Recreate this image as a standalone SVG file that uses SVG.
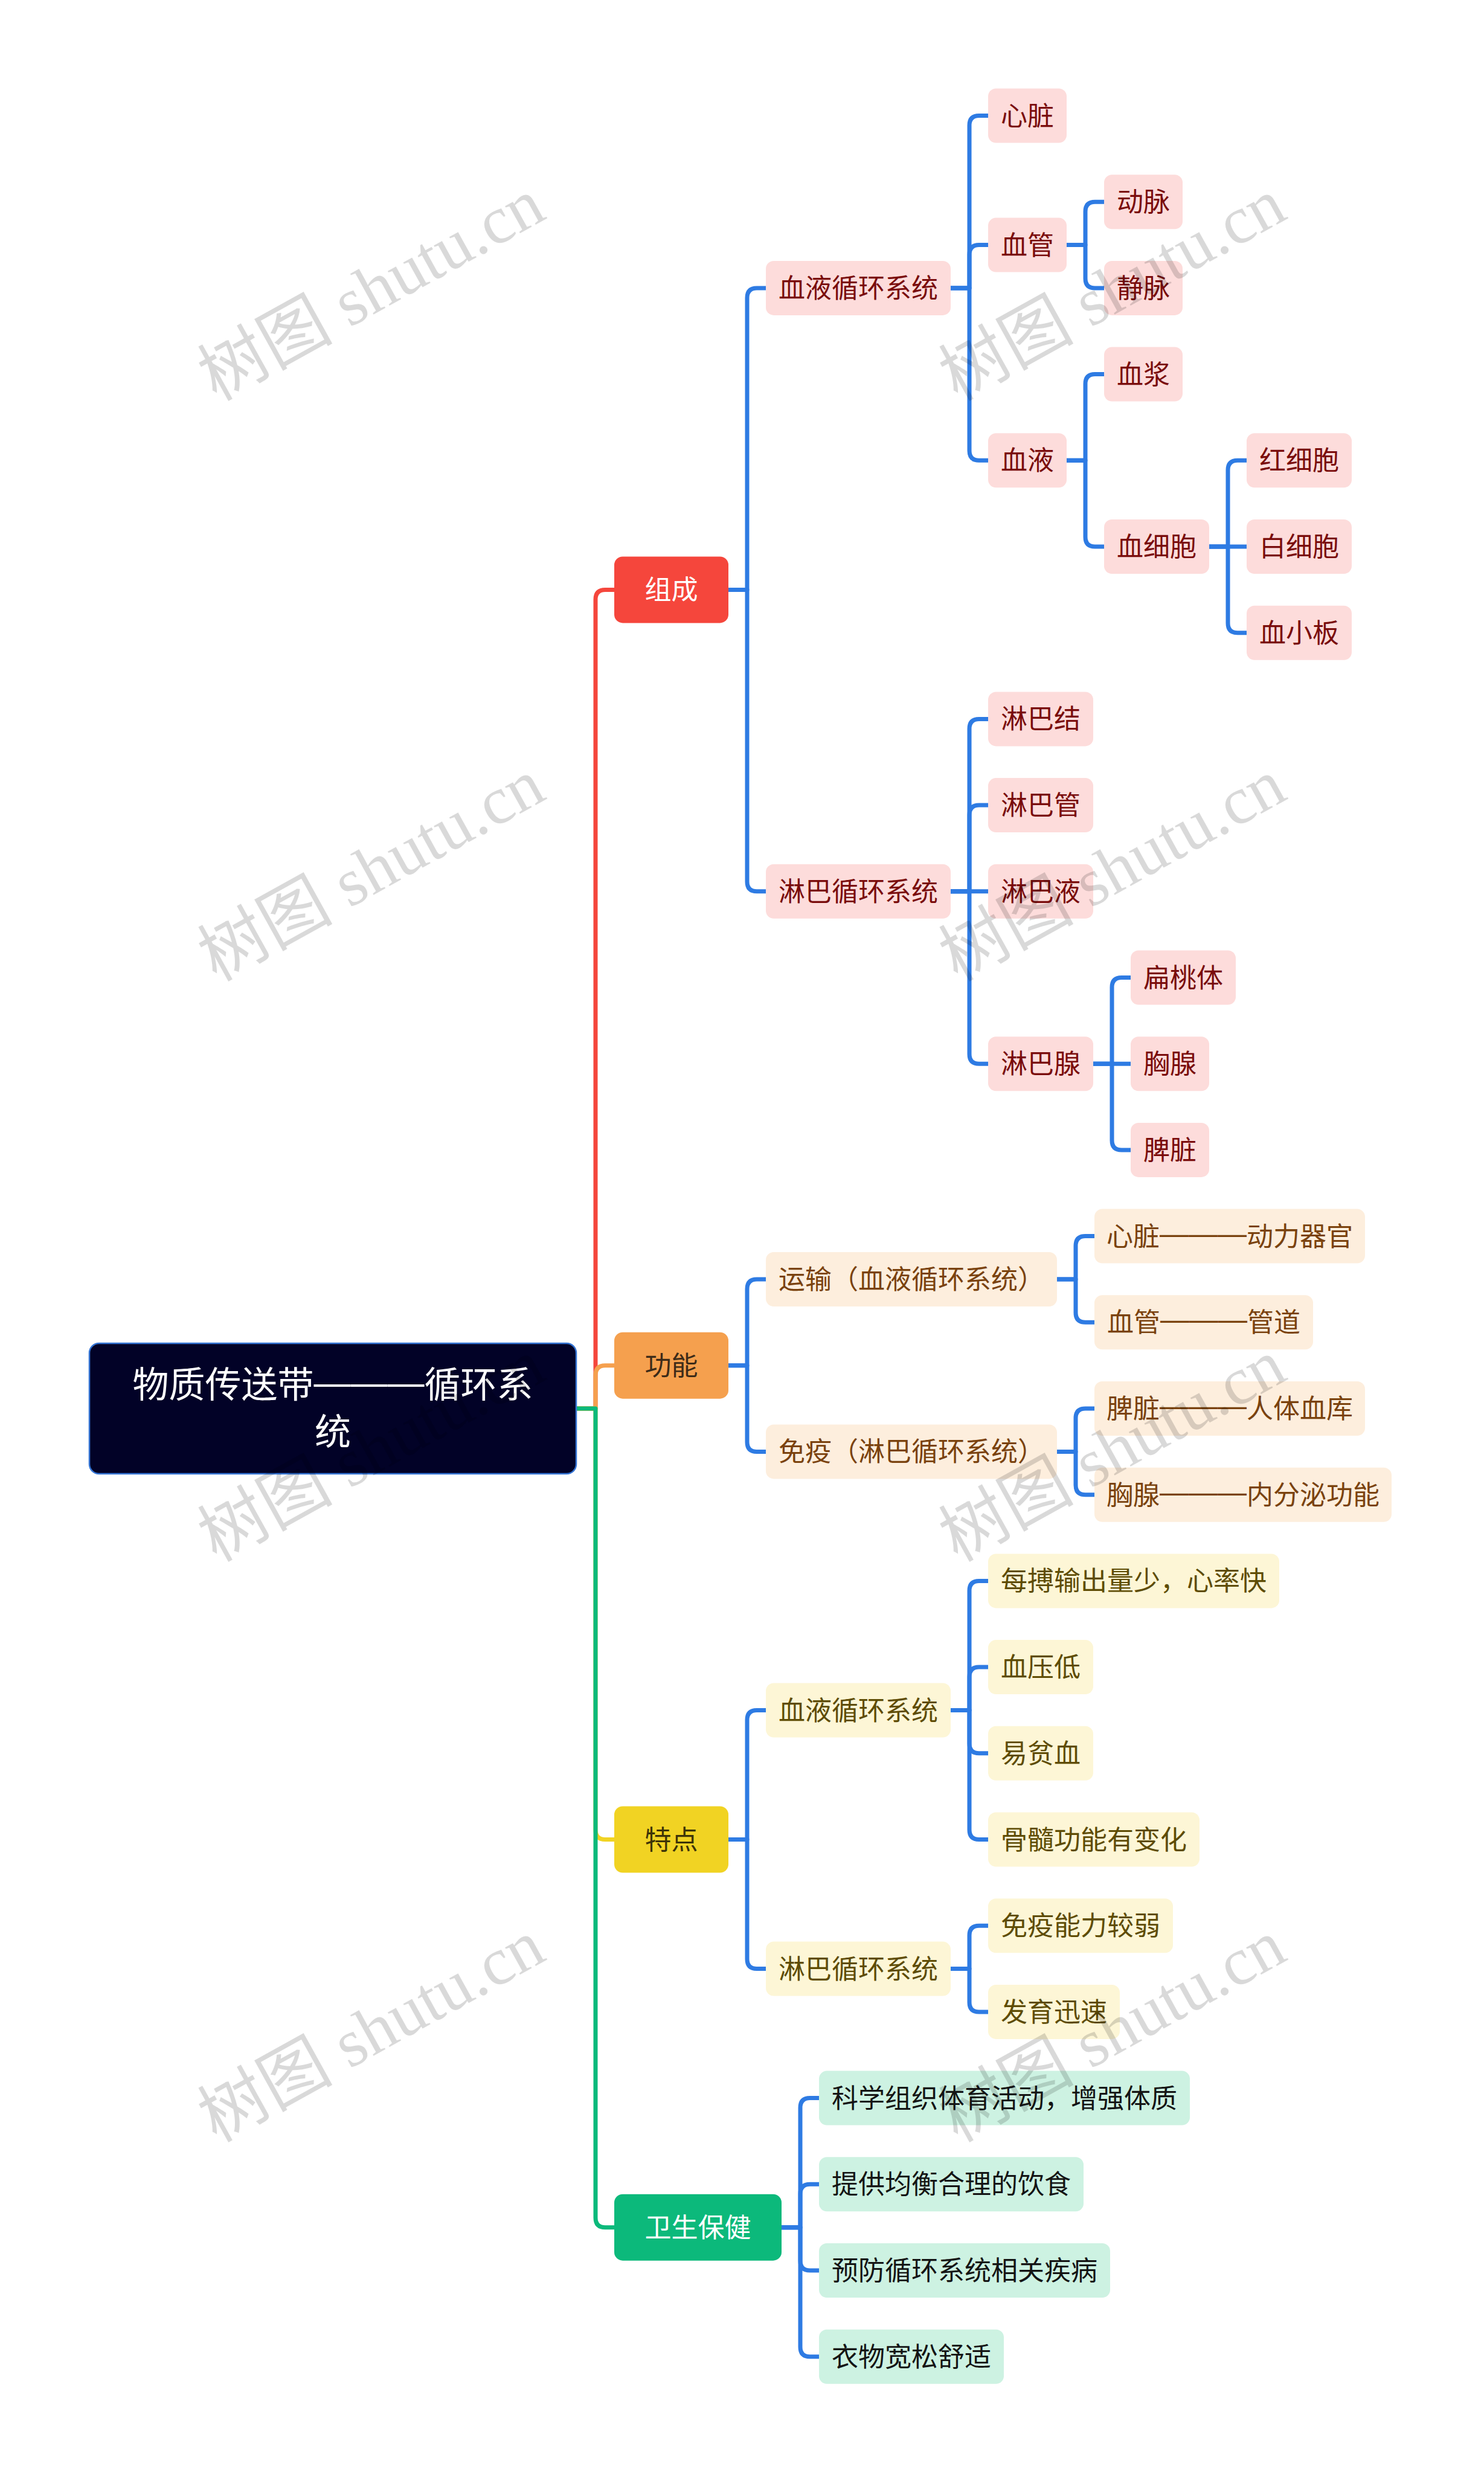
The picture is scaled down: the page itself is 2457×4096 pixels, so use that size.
<svg xmlns="http://www.w3.org/2000/svg" width="2457" height="4096" viewBox="0 0 2457 4096">
<defs>
<style>
.t{font-family:"Noto Sans CJK SC","Noto Sans",sans-serif;font-size:44px;text-anchor:middle}
.rt{font-family:"Noto Sans CJK SC","Noto Sans",sans-serif;font-size:60px;text-anchor:middle;fill:#ffffff}
.dl{font-family:"Liberation Sans",sans-serif;font-size:48px}
.dr{font-family:"Liberation Sans",sans-serif;font-size:61px}
.r rect{fill:#fddcdb}.r text{fill:#7a0c0c}
.o rect{fill:#fdeedd}.o text{fill:#7a420e}
.y rect{fill:#fdf6d6}.y text{fill:#5e4c04}
.g rect{fill:#cdf2e2}.g text{fill:#141414}
.c{fill:none;stroke-width:7;stroke-linejoin:round}
.blue{stroke:#2e7be3}
.wm{font-family:"Liberation Serif","Noto Sans CJK SC",serif;font-size:112px;fill:#000000;fill-opacity:0.15}
</style>
</defs>
<rect x="0" y="0" width="2457" height="4096" fill="#ffffff"/>

<g id="connectors">
<path class="c" stroke="#f5463c" d="M954 2332 H986 V992.4 Q986 976.4 1002 976.4 H1017"/>
<path class="c" stroke="#f5a04e" d="M954 2332 H986 V2276.7 Q986 2260.7 1002 2260.7 H1017"/>
<path class="c" stroke="#f1d323" d="M954 2332 H986 V3029.5 Q986 3045.5 1002 3045.5 H1017"/>
<path class="c" stroke="#0cb97b" d="M954 2332 H986 V3671.7 Q986 3687.7 1002 3687.7 H1017"/>
<g class="c blue">
<path d="M1206 976.4 H1237 V492.9 Q1237 476.9 1253 476.9 H1268"/>
<path d="M1206 976.4 H1237 V1459.8 Q1237 1475.8 1253 1475.8 H1268"/>
<path d="M1206 2260.7 H1237 V2134 Q1237 2118 1253 2118 H1268"/>
<path d="M1206 2260.7 H1237 V2387.4 Q1237 2403.4 1253 2403.4 H1268"/>
<path d="M1206 3045.5 H1237 V2847.5 Q1237 2831.5 1253 2831.5 H1268"/>
<path d="M1206 3045.5 H1237 V3243.6 Q1237 3259.6 1253 3259.6 H1268"/>
<path d="M1294 3687.7 H1325 V3489.6 Q1325 3473.6 1341 3473.6 H1356"/>
<path d="M1294 3687.7 H1325 V3632.3 Q1325 3616.3 1341 3616.3 H1356"/>
<path d="M1294 3687.7 H1325 V3743 Q1325 3759 1341 3759 H1356"/>
<path d="M1294 3687.7 H1325 V3885.7 Q1325 3901.7 1341 3901.7 H1356"/>
<path d="M1574 476.9 H1605 V207.5 Q1605 191.5 1621 191.5 H1636"/>
<path d="M1574 476.9 H1605 V421.6 Q1605 405.6 1621 405.6 H1636"/>
<path d="M1574 476.9 H1605 V746.3 Q1605 762.3 1621 762.3 H1636"/>
<path d="M1574 1475.8 H1605 V1206.4 Q1605 1190.4 1621 1190.4 H1636"/>
<path d="M1574 1475.8 H1605 V1349.1 Q1605 1333.1 1621 1333.1 H1636"/>
<path d="M1574 1475.8 H1636"/>
<path d="M1574 1475.8 H1605 V1745.2 Q1605 1761.2 1621 1761.2 H1636"/>
<path d="M1766 405.6 H1797 V350.2 Q1797 334.2 1813 334.2 H1828"/>
<path d="M1766 405.6 H1797 V460.9 Q1797 476.9 1813 476.9 H1828"/>
<path d="M1766 762.3 H1797 V635.6 Q1797 619.6 1813 619.6 H1828"/>
<path d="M1766 762.3 H1797 V889 Q1797 905 1813 905 H1828"/>
<path d="M2002 905 H2033 V778.3 Q2033 762.3 2049 762.3 H2064"/>
<path d="M2002 905 H2064"/>
<path d="M2002 905 H2033 V1031.7 Q2033 1047.7 2049 1047.7 H2064"/>
<path d="M1810 1761.2 H1841 V1634.5 Q1841 1618.5 1857 1618.5 H1872"/>
<path d="M1810 1761.2 H1872"/>
<path d="M1810 1761.2 H1841 V1887.9 Q1841 1903.9 1857 1903.9 H1872"/>
<path d="M1750 2118 H1781 V2062.6 Q1781 2046.6 1797 2046.6 H1812"/>
<path d="M1750 2118 H1781 V2173.3 Q1781 2189.3 1797 2189.3 H1812"/>
<path d="M1750 2403.4 H1781 V2348 Q1781 2332 1797 2332 H1812"/>
<path d="M1750 2403.4 H1781 V2458.7 Q1781 2474.7 1797 2474.7 H1812"/>
<path d="M1574 2831.5 H1605 V2633.4 Q1605 2617.4 1621 2617.4 H1636"/>
<path d="M1574 2831.5 H1605 V2776.1 Q1605 2760.1 1621 2760.1 H1636"/>
<path d="M1574 2831.5 H1605 V2886.8 Q1605 2902.8 1621 2902.8 H1636"/>
<path d="M1574 2831.5 H1605 V3029.5 Q1605 3045.5 1621 3045.5 H1636"/>
<path d="M1574 3259.6 H1605 V3204.2 Q1605 3188.2 1621 3188.2 H1636"/>
<path d="M1574 3259.6 H1605 V3314.9 Q1605 3330.9 1621 3330.9 H1636"/>
</g>
</g>

<g id="root">
<rect x="148" y="2224" width="806" height="216" rx="16" fill="#020227" stroke="#3474d4" stroke-width="2.5"/>
<text class="rt" x="551" y="2314">物质传送带<tspan class="dr" dy="-4">———</tspan><tspan dy="4">循环系</tspan></text>
<text class="rt" x="551" y="2392">统</text>
</g>

<g id="n-zucheng"><rect x="1017" y="921.4" width="189" height="110" rx="14" fill="#f5463c"/><text class="t" x="1111.5" y="992.4" fill="#ffffff">组成</text></g>
<g id="n-gongneng"><rect x="1017" y="2205.7" width="189" height="110" rx="14" fill="#f5a04e"/><text class="t" x="1111.5" y="2276.7" fill="#3d2b18">功能</text></g>
<g id="n-tedian"><rect x="1017" y="2990.5" width="189" height="110" rx="14" fill="#f1d323"/><text class="t" x="1111.5" y="3061.5" fill="#3d3408">特点</text></g>
<g id="n-weisheng"><rect x="1017" y="3632.7" width="277" height="110" rx="14" fill="#0cb97b"/><text class="t" x="1155.5" y="3703.7" fill="#ffffff">卫生保健</text></g>

<g class="r">
<g id="n-xueye-xt"><rect x="1268" y="431.9" width="306" height="90" rx="13"/><text class="t" x="1421" y="492.9">血液循环系统</text></g>
<g id="n-linba-xt"><rect x="1268" y="1430.8" width="306" height="90" rx="13"/><text class="t" x="1421" y="1491.8">淋巴循环系统</text></g>
<g id="n-xinzang"><rect x="1636" y="146.5" width="130" height="90" rx="13"/><text class="t" x="1701" y="207.5">心脏</text></g>
<g id="n-xueguan"><rect x="1636" y="360.6" width="130" height="90" rx="13"/><text class="t" x="1701" y="421.6">血管</text></g>
<g id="n-xueye"><rect x="1636" y="717.3" width="130" height="90" rx="13"/><text class="t" x="1701" y="778.3">血液</text></g>
<g id="n-dongmai"><rect x="1828" y="289.2" width="130" height="90" rx="13"/><text class="t" x="1893" y="350.2">动脉</text></g>
<g id="n-jingmai"><rect x="1828" y="431.9" width="130" height="90" rx="13"/><text class="t" x="1893" y="492.9">静脉</text></g>
<g id="n-xuejiang"><rect x="1828" y="574.6" width="130" height="90" rx="13"/><text class="t" x="1893" y="635.6">血浆</text></g>
<g id="n-xuexibao"><rect x="1828" y="860" width="174" height="90" rx="13"/><text class="t" x="1915" y="921">血细胞</text></g>
<g id="n-hongxibao"><rect x="2064" y="717.3" width="174" height="90" rx="13"/><text class="t" x="2151" y="778.3">红细胞</text></g>
<g id="n-baixibao"><rect x="2064" y="860" width="174" height="90" rx="13"/><text class="t" x="2151" y="921">白细胞</text></g>
<g id="n-xuexiaoban"><rect x="2064" y="1002.7" width="174" height="90" rx="13"/><text class="t" x="2151" y="1063.7">血小板</text></g>
<g id="n-linbajie"><rect x="1636" y="1145.4" width="174" height="90" rx="13"/><text class="t" x="1723" y="1206.4">淋巴结</text></g>
<g id="n-linbaguan"><rect x="1636" y="1288.1" width="174" height="90" rx="13"/><text class="t" x="1723" y="1349.1">淋巴管</text></g>
<g id="n-linbaye"><rect x="1636" y="1430.8" width="174" height="90" rx="13"/><text class="t" x="1723" y="1491.8">淋巴液</text></g>
<g id="n-linbaxian"><rect x="1636" y="1716.2" width="174" height="90" rx="13"/><text class="t" x="1723" y="1777.2">淋巴腺</text></g>
<g id="n-biantaoti"><rect x="1872" y="1573.5" width="174" height="90" rx="13"/><text class="t" x="1959" y="1634.5">扁桃体</text></g>
<g id="n-xiongxian"><rect x="1872" y="1716.2" width="130" height="90" rx="13"/><text class="t" x="1937" y="1777.2">胸腺</text></g>
<g id="n-pizang"><rect x="1872" y="1858.9" width="130" height="90" rx="13"/><text class="t" x="1937" y="1919.9">脾脏</text></g>
</g>

<g class="o">
<g id="n-yunshu"><rect x="1268" y="2073" width="482" height="90" rx="13"/><text class="t" x="1509" y="2134">运输（血液循环系统）</text></g>
<g id="n-mianyi"><rect x="1268" y="2358.4" width="482" height="90" rx="13"/><text class="t" x="1509" y="2419.4">免疫（淋巴循环系统）</text></g>
<g id="n-f1"><rect x="1812" y="2001.6" width="448" height="90" rx="13"/><text class="t" x="2036" y="2062.6">心脏<tspan class="dl" dy="-4">———</tspan><tspan dy="4">动力器官</tspan></text></g>
<g id="n-f2"><rect x="1812" y="2144.3" width="362" height="90" rx="13"/><text class="t" x="1993" y="2205.3">血管<tspan class="dl" dy="-4">———</tspan><tspan dy="4">管道</tspan></text></g>
<g id="n-f3"><rect x="1812" y="2287" width="448" height="90" rx="13"/><text class="t" x="2036" y="2348">脾脏<tspan class="dl" dy="-4">———</tspan><tspan dy="4">人体血库</tspan></text></g>
<g id="n-f4"><rect x="1812" y="2429.7" width="492" height="90" rx="13"/><text class="t" x="2058" y="2490.7">胸腺<tspan class="dl" dy="-4">———</tspan><tspan dy="4">内分泌功能</tspan></text></g>
</g>

<g class="y">
<g id="n-t-xueye"><rect x="1268" y="2786.5" width="306" height="90" rx="13"/><text class="t" x="1421" y="2847.5">血液循环系统</text></g>
<g id="n-t-linba"><rect x="1268" y="3214.6" width="306" height="90" rx="13"/><text class="t" x="1421" y="3275.6">淋巴循环系统</text></g>
<g id="n-t1"><rect x="1636" y="2572.4" width="482" height="90" rx="13"/><text class="t" x="1877" y="2633.4">每搏输出量少，心率快</text></g>
<g id="n-t2"><rect x="1636" y="2715.1" width="174" height="90" rx="13"/><text class="t" x="1723" y="2776.1">血压低</text></g>
<g id="n-t3"><rect x="1636" y="2857.8" width="174" height="90" rx="13"/><text class="t" x="1723" y="2918.8">易贫血</text></g>
<g id="n-t4"><rect x="1636" y="3000.5" width="350" height="90" rx="13"/><text class="t" x="1811" y="3061.5">骨髓功能有变化</text></g>
<g id="n-t5"><rect x="1636" y="3143.2" width="306" height="90" rx="13"/><text class="t" x="1789" y="3204.2">免疫能力较弱</text></g>
<g id="n-t6"><rect x="1636" y="3285.9" width="218" height="90" rx="13"/><text class="t" x="1745" y="3346.9">发育迅速</text></g>
</g>

<g class="g">
<g id="n-w1"><rect x="1356" y="3428.6" width="614" height="90" rx="13"/><text class="t" x="1663" y="3489.6">科学组织体育活动，增强体质</text></g>
<g id="n-w2"><rect x="1356" y="3571.3" width="438" height="90" rx="13"/><text class="t" x="1575" y="3632.3">提供均衡合理的饮食</text></g>
<g id="n-w3"><rect x="1356" y="3714" width="482" height="90" rx="13"/><text class="t" x="1597" y="3775">预防循环系统相关疾病</text></g>
<g id="n-w4"><rect x="1356" y="3856.7" width="306" height="90" rx="13"/><text class="t" x="1509" y="3917.7">衣物宽松舒适</text></g>
</g>

<g id="watermarks">
<text class="wm" x="358" y="665" transform="rotate(-29 358 665)">树图 shutu.cn</text>
<text class="wm" x="1585" y="665" transform="rotate(-29 1585 665)">树图 shutu.cn</text>
<text class="wm" x="358" y="1626" transform="rotate(-29 358 1626)">树图 shutu.cn</text>
<text class="wm" x="1585" y="1626" transform="rotate(-29 1585 1626)">树图 shutu.cn</text>
<text class="wm" x="358" y="2587" transform="rotate(-29 358 2587)">树图 shutu.cn</text>
<text class="wm" x="1585" y="2587" transform="rotate(-29 1585 2587)">树图 shutu.cn</text>
<text class="wm" x="358" y="3548" transform="rotate(-29 358 3548)">树图 shutu.cn</text>
<text class="wm" x="1585" y="3548" transform="rotate(-29 1585 3548)">树图 shutu.cn</text>
</g>
</svg>
